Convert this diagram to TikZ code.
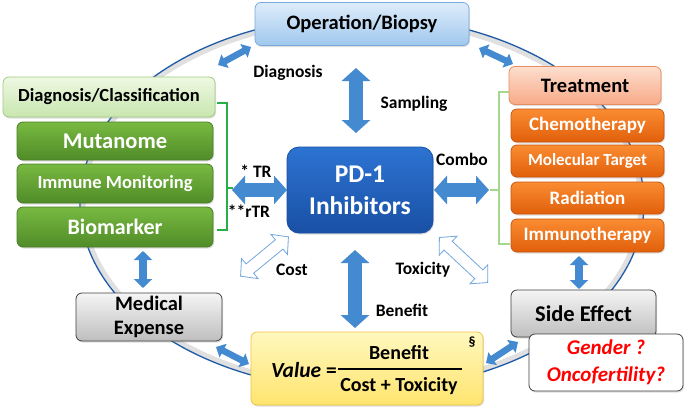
\documentclass[tikz,border=0pt]{standalone}
\usepackage{fontspec}
\setmainfont{Carlito}
\usetikzlibrary{arrows.meta,shadows,calc}
\definecolor{arrblue}{RGB}{68,138,208}
\definecolor{ringblue}{RGB}{30,90,165}
\definecolor{opTop}{RGB}{222,236,250}
\definecolor{opBot}{RGB}{160,200,238}
\definecolor{opLine}{RGB}{120,170,220}
\definecolor{trTop}{RGB}{253,222,206}
\definecolor{trBot}{RGB}{248,170,135}
\definecolor{trLine}{RGB}{230,140,95}
\definecolor{orTop}{RGB}{250,140,50}
\definecolor{orBot}{RGB}{225,95,10}
\definecolor{orLine}{RGB}{200,85,15}
\definecolor{dcTop}{RGB}{238,248,226}
\definecolor{dcBot}{RGB}{200,230,175}
\definecolor{dcLine}{RGB}{160,205,130}
\definecolor{grTop}{RGB}{120,185,65}
\definecolor{grBot}{RGB}{80,140,40}
\definecolor{grLine}{RGB}{75,125,40}
\definecolor{pdTop}{RGB}{45,115,210}
\definecolor{pdBot}{RGB}{25,80,165}
\definecolor{gyTop}{RGB}{245,245,245}
\definecolor{gyBot}{RGB}{190,190,190}
\definecolor{vaTop}{RGB}{255,248,190}
\definecolor{vaBot}{RGB}{255,228,110}
\definecolor{vaLine}{RGB}{240,195,70}
\definecolor{brL}{RGB}{40,175,70}
\definecolor{brR}{RGB}{165,215,140}
\begin{document}
\begin{tikzpicture}[x=1pt,y=-1pt,font=\bfseries,
  box/.style={rounded corners=6pt, line width=0.8pt, align=center, inner sep=0pt,
    drop shadow={opacity=0.25,shadow xshift=1pt,shadow yshift=-1.5pt}},
  opbox/.style={box, draw=opLine, top color=opTop, bottom color=opBot},
  trbox/.style={box, draw=trLine, top color=trTop, bottom color=trBot},
  orbox/.style={box, draw=orLine, top color=orTop, bottom color=orBot, text=white,
    minimum width=153pt, font=\bfseries\fontsize{19}{22}\selectfont},
  dcbox/.style={box, draw=dcLine, top color=dcTop, bottom color=dcBot},
  grbox/.style={box, draw=grLine, top color=grTop, bottom color=grBot, text=white, minimum width=196pt},
  gybox/.style={box, draw=black!75, top color=gyTop, bottom color=gyBot},
  fatA/.style={draw=arrblue, line width=14pt, arrows={Triangle[length=13pt,width=28pt]-Triangle[length=13pt,width=28pt]}},
  midA/.style={draw=arrblue, line width=8pt, arrows={Triangle[length=9pt,width=18pt]-Triangle[length=9pt,width=18pt]}},
  smallA/.style={draw=arrblue, line width=6.5pt, arrows={Triangle[length=8pt,width=15pt]-Triangle[length=8pt,width=15pt]}},
  hollow/.style={draw=arrblue!75, fill=white, line width=0.8pt, line join=miter},
  lbl/.style={font=\bfseries\fontsize{17.5}{20}\selectfont, inner sep=0pt}
]
\useasboundingbox (0,0) rectangle (685,410);
\fill[white] (0,0) rectangle (685,410);

% ring
\draw[black!12, line width=5pt] (362,203) ellipse [x radius=279, y radius=184];
\draw[ringblue, line width=1.3pt] (362,203) ellipse [x radius=282, y radius=187];

% top
\node[opbox, minimum width=214pt, minimum height=43pt, font=\bfseries\fontsize{20.5}{22}\selectfont] (op) at (362,24) {Operation/Biopsy};

% right column
\node[trbox, minimum width=152pt, minimum height=38pt, font=\bfseries\fontsize{20.5}{22}\selectfont] (tr) at (585,85.5) {Treatment};
\node[orbox, minimum height=33pt] (chemo) at (587.5,125.5) {Chemotherapy};
\node[orbox, minimum height=32pt, font=\bfseries\fontsize{17}{20}\selectfont] (mol) at (587.5,161) {Molecular Target};
\node[orbox, minimum height=32pt] (rad) at (587.5,198) {Radiation};
\node[orbox, minimum height=33pt] (imm) at (587.5,235.5) {Immunotherapy};

% left column
\node[dcbox, minimum width=212pt, minimum height=40pt, font=\bfseries\fontsize{18.5}{22}\selectfont] (dc) at (109,97) {Diagnosis/Classification};
\node[grbox, minimum height=38pt, font=\bfseries\fontsize{22.5}{24}\selectfont] (mut) at (115,141) {Mutanome};
\node[grbox, minimum height=39pt, font=\bfseries\fontsize{18.5}{22}\selectfont] (imon) at (115,183.5) {Immune Monitoring};
\node[grbox, minimum height=40pt, font=\bfseries\fontsize{22}{24}\selectfont] (bio) at (115,227) {Biomarker};

% centre
\node[box, rounded corners=12pt, draw=pdBot, top color=pdTop, bottom color=pdBot, text=white,
  minimum width=146pt, minimum height=86pt, font=\bfseries\fontsize{25.5}{32}\selectfont] (pd) at (360,190) {PD-1\\Inhibitors};

% bottom row
\node[gybox, minimum width=146pt, minimum height=48pt, font=\bfseries\fontsize{20.5}{24}\selectfont] (med) at (149,317) {Medical\\Expense};
\node[gybox, minimum width=145pt, minimum height=47pt, font=\bfseries\fontsize{22.5}{24}\selectfont] (side) at (583.5,313.5) {Side Effect};
\node[box, draw=black!75, fill=white, text=red, minimum width=154pt, minimum height=57pt,
  font=\bfseries\itshape\fontsize{21}{27}\selectfont] (gen) at (606,362.5) {Gender ?\\Oncofertility?};
\node[box, draw=vaLine, top color=vaTop, bottom color=vaBot, minimum width=232pt, minimum height=73pt] (val) at (367,368.5) {};

% value formula
\node[font=\bfseries\fontsize{21.5}{24}\selectfont, inner sep=0pt, anchor=east] (vt) at (337,370) {\textit{Value} =};
\coordinate (fl) at (338,369);
\coordinate (fr) at (462,369);
\draw[black, line width=1.6pt] (fl) -- (fr);
\node[font=\bfseries\fontsize{20}{22}\selectfont, inner sep=0pt] (num) at (399,353) {Benefit};
\node[font=\bfseries\fontsize{20}{22}\selectfont, inner sep=0pt] (den) at (399,386) {Cost + Toxicity};
\node[font=\bfseries\fontsize{14}{16}\selectfont, inner sep=0pt] (sec) at (472,342) {§};

% brackets
\coordinate (bl1) at (217,103); \coordinate (bl2) at (217,230);
\coordinate (blm) at (233,188);
\draw[brL, line width=1.4pt] (bl1) -- (227,103) -- (227,230) -- (bl2);
\draw[brL, line width=1.4pt] (227,188) -- (blm);
\coordinate (br1) at (509,92); \coordinate (br2) at (510,244);
\coordinate (brm) at (490,190);
\draw[brR, line width=1.4pt] (br1) -- (499,92) -- (499,244) -- (br2);
\draw[brR, line width=1.4pt] (499,190) -- (brm);

% fat arrows
\coordinate (a1t) at (356,68); \coordinate (a1b) at (356,133);
\draw[fatA] (a1t) -- (a1b);
\coordinate (a2t) at (355,250); \coordinate (a2b) at (355,328);
\draw[fatA] (a2t) -- (a2b);
\coordinate (a3l) at (232,190); \coordinate (a3r) at (287,190);
\draw[fatA] (a3l) -- (a3r);
\coordinate (a4l) at (434,190); \coordinate (a4r) at (489,190);
\draw[fatA] (a4l) -- (a4r);

% medium vertical arrows
\coordinate (a5t) at (143,251); \coordinate (a5b) at (143,288);
\draw[midA] (a5t) -- (a5b);
\coordinate (a6t) at (579,256); \coordinate (a6b) at (579,289);
\draw[midA] (a6t) -- (a6b);

% small diagonal arrows
\coordinate (d1a) at (218,65); \coordinate (d1b) at (251,47);
\draw[smallA] (d1a) -- (d1b);
\coordinate (d2a) at (479,48); \coordinate (d2b) at (513,64);
\draw[smallA] (d2a) -- (d2b);
\coordinate (d3a) at (216,347); \coordinate (d3b) at (249,364);
\draw[smallA] (d3a) -- (d3b);
\coordinate (d4a) at (486,363); \coordinate (d4b) at (518,342);
\draw[smallA] (d4a) -- (d4b);

% hollow arrows (drawn as shapes)
\begin{scope}[shift={(264.5,256.5)}, rotate=39.4]
  \draw[hollow] (-31,0) -- (-19,13) -- (-19,6) -- (19,6) -- (19,13) -- (31,0)
    -- (19,-13) -- (19,-6) -- (-19,-6) -- (-19,-13) -- cycle;
\end{scope}
\begin{scope}[shift={(463.5,260)}, rotate=-43]
  \draw[hollow] (-33,0) -- (-21,13) -- (-21,6) -- (21,6) -- (21,13) -- (33,0)
    -- (21,-13) -- (21,-6) -- (-21,-6) -- (-21,-13) -- cycle;
\end{scope}

% labels
\node[lbl] (lDiag) at (288,73) {Diagnosis};
\node[lbl] (lSamp) at (414,104) {Sampling};
\node[lbl] (lCombo) at (462,159) {Combo};
\node[lbl] (lTR) at (256,171) {* TR};
\node[lbl] (lrTR) at (249,211) {**rTR};
\node[lbl] (lCost) at (292,270) {Cost};
\node[lbl] (lTox) at (423,270) {Toxicity};
\node[lbl] (lBen) at (402,310) {Benefit};
\end{tikzpicture}
\end{document}
